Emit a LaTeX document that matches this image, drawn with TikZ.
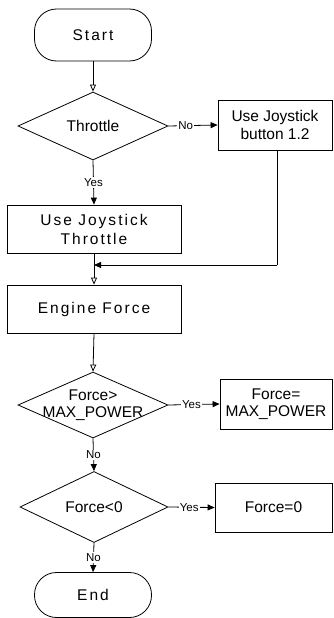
\documentclass[tikz,border=0pt]{standalone}
\usepackage{fontspec}
\setmainfont{Liberation Sans}
\usetikzlibrary{shapes.geometric,arrows.meta}
\tikzset{
  base/.style={draw=black, line width=0.8pt, inner sep=0pt, align=center, font=\fontsize{15.5}{18}\selectfont},
  term/.style={base, rectangle, rounded corners=22pt, minimum width=117pt},
  procbox/.style={base, rectangle},
  decide/.style={base, diamond},
  txt/.style={inner sep=0pt, align=center, font=\fontsize{15.5}{16.5}\selectfont},
  lbl/.style={fill=white, inner sep=1pt, font=\fontsize{11.5}{13}\selectfont},
  arr/.style={line width=0.8pt, -{Triangle[length=7pt,width=6pt]}},
  arro/.style={line width=0.8pt, -{Triangle[open,length=7pt,width=6pt]}},
  ln/.style={line width=0.8pt},
  sp/.style={font=\fontsize{15.5}{19}\selectfont\addfontfeature{LetterSpace=13}}
}
\begin{document}
\begin{tikzpicture}[x=1pt,y=-1pt]
\useasboundingbox (0,0) rectangle (334,618);
\node[term, sp, minimum height=52pt] (start) at (93,35) {Start};
\node[decide, minimum width=150pt, minimum height=68pt] (thr) at (93,126) {};
\node[txt] (thrt) at (thr.center) {Throttle};
\node[procbox, minimum width=114pt, minimum height=50pt] (btn) at (275,125) {Use Joystick\\button 1.2};
\node[procbox, sp, minimum width=174pt, minimum height=48pt] (ujt) at (94,229) {Use Joystick\\Throttle};
\node[procbox, sp, minimum width=174pt, minimum height=48pt] (ef) at (94,309) {Engine Force};
\node[decide, minimum width=150pt, minimum height=66pt] (fgt) at (93,405) {};
\node[txt] (fgtt) at (fgt.center) {Force\textgreater\\MAX\_POWER};
\node[procbox, txt, draw, line width=0.8pt, minimum width=112pt, minimum height=50pt] (fmax) at (276,404) {Force=\\MAX\_POWER};
\node[decide, minimum width=148pt, minimum height=71pt] (flt) at (94,507) {};
\node[txt] (fltt) at (flt.center) {Force\textless 0};
\node[procbox, minimum width=117pt, minimum height=49pt] (f0) at (273.5,507.5) {Force=0};
\node[term, sp, minimum height=45pt] (end) at (93,595) {End};
\coordinate (jr) at (277,265);
\coordinate (jl) at (94,265);

\draw[arro] (start.south) -- (thr.north);
\draw[arr] (thr.east) -- node[lbl, pos=0.35] {No} (btn.west);
\draw[arr] (thr.south) -- node[lbl, pos=0.5] {Yes} (ujt.north);
\draw[ln] (btn.south -| jr) -- (jr);
\draw[arr] (jr) -- (jl);
\draw[arro] (ujt.south) -- (ef.north);
\draw[arro] (ef.south) -- (fgt.north);
\draw[arr] (fgt.east) -- node[lbl, pos=0.45] {Yes} (fmax.west);
\draw[arr] (fgt.south) -- node[lbl, pos=0.5] {No} (flt.north);
\draw[arr] (flt.east) -- node[lbl, pos=0.45] {Yes} (f0.west);
\draw[arr] (flt.south) -- node[lbl, pos=0.5] {No} (end.north);
\end{tikzpicture}
\end{document}
